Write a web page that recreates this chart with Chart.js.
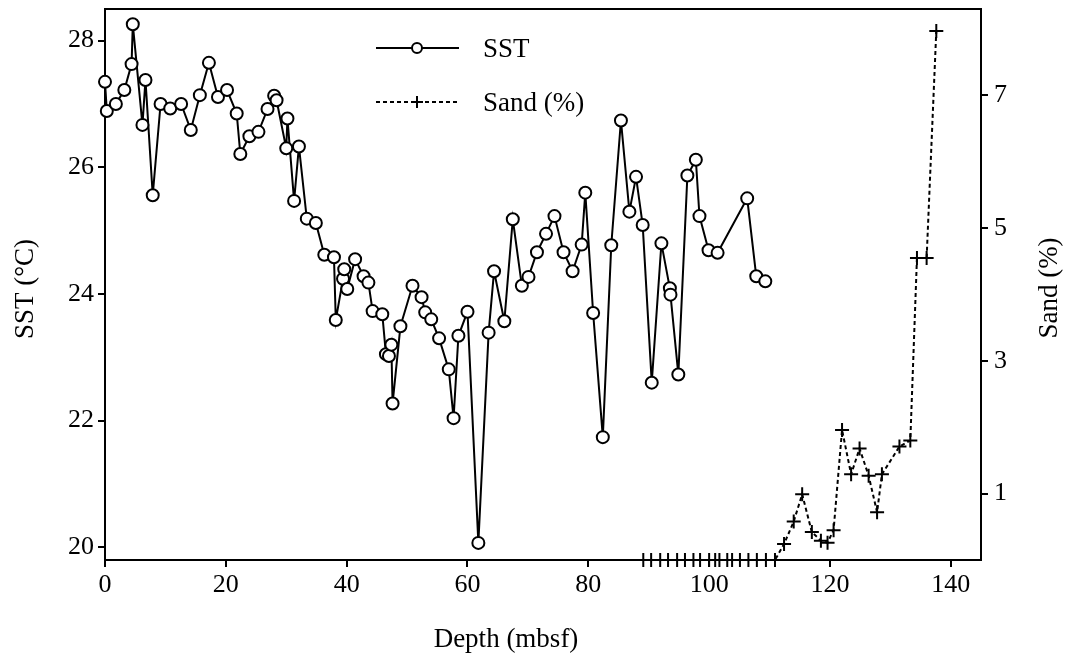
<!DOCTYPE html>
<html lang="en">
<head>
<meta charset="UTF-8">
<title>SST and Sand vs Depth</title>
<script src="https://cdn.jsdelivr.net/npm/chart.js"></script>
<style>
  html, body { margin: 0; padding: 0; background: #fff; }
  #wrap { width: 1084px; height: 667px; }
</style>
</head>
<body>
<div id="wrap"><canvas id="myChart" width="1084" height="667"></canvas></div>
<script>
// depth (mbsf) and SST (oC)
const sstDepth = [0, 0.3, 1.8, 3.2, 4.4, 4.6, 6.2, 6.7, 7.9, 9.2,
    10.8, 12.6, 14.2, 15.7, 17.2, 18.7, 20.2, 21.8, 22.4, 23.9,
    25.4, 26.9, 28.0, 28.4, 30.0, 30.2, 31.3, 32.1, 33.4, 34.9,
    36.3, 37.9, 38.2, 39.4, 39.6, 40.1, 41.4, 42.8, 43.6, 44.3,
    45.9, 46.5, 47.0, 47.4, 47.6, 48.9, 50.9, 52.4, 53.0, 54.0,
    55.3, 56.9, 57.7, 58.5, 60.0, 61.8, 63.5, 64.4, 66.1, 67.5,
    69.0, 70.1, 71.5, 73.0, 74.4, 75.9, 77.4, 78.9, 79.5, 80.8,
    82.4, 83.8, 85.4, 86.8, 87.9, 89.0, 90.5, 92.1, 93.5, 93.6,
    94.9, 96.4, 97.8, 98.4, 99.9, 101.4, 106.3, 107.8, 109.3];
const sstValues = [27.35, 26.89, 27.0, 27.22, 27.63, 28.26, 26.67, 27.38, 25.56, 27.0,
    26.93, 27.0, 26.59, 27.14, 27.65, 27.11, 27.22, 26.85, 26.21, 26.49,
    26.56, 26.92, 27.13, 27.06, 26.3, 26.77, 25.47, 26.33, 25.19, 25.12,
    24.62, 24.58, 23.59, 24.24, 24.39, 24.08, 24.55, 24.28, 24.18, 23.73,
    23.68, 23.05, 23.02, 23.2, 22.27, 23.49, 24.13, 23.95, 23.71, 23.6,
    23.3, 22.81, 22.04, 23.34, 23.72, 20.07, 23.39, 24.36, 23.57, 25.18,
    24.13, 24.27, 24.66, 24.95, 25.23, 24.66, 24.36, 24.78, 25.6, 23.7,
    21.74, 24.77, 26.74, 25.3, 25.85, 25.09, 22.6, 24.8, 24.09, 23.99,
    22.73, 25.87, 26.12, 25.23, 24.69, 24.65, 25.51, 24.28, 24.2];

// depth (mbsf) and sand (%)
const sandDepth = [89.1, 90.4, 91.9, 93.2, 94.7, 96.0, 97.4, 98.5, 100.0, 101.0,
    101.7, 103.0, 103.8, 105.1, 106.5, 107.9, 109.4, 110.9, 112.4, 114.0,
    115.4, 117.0, 118.5, 119.6, 120.6, 122.0, 123.5, 124.9, 126.4, 127.8,
    128.6, 131.5, 133.3, 134.4, 136.0, 137.6];
const sandValues = [0, 0, 0, 0, 0, 0, 0, 0, 0, 0,
    0, 0, 0, 0, 0, 0, 0, 0, 0.24, 0.58,
    0.99, 0.42, 0.29, 0.26, 0.45, 1.96, 1.29, 1.68, 1.27, 0.72,
    1.29, 1.71, 1.8, 4.55, 4.55, 7.97];

const depthTicks = [0, 20, 40, 60, 80, 100, 120, 140];
const sstTicks = [20, 22, 24, 26, 28];
const sandTicks = [1, 3, 5, 7];

const FONT = "'Liberation Serif', 'Times New Roman', serif";

function pts(xs, ys) {
    return xs.map((x, i) => ({ x: x, y: ys[i] }));
}

function vText(ctx, text, x, y) {
    ctx.save();
    ctx.translate(x, y);
    ctx.rotate(-Math.PI / 2);
    ctx.fillText(text, 0, 0);
    ctx.restore();
}

// top frame line, axis titles and legend drawn by hand
const framePlugin = {
    id: 'frame',
    afterDraw(chart) {
        const ctx = chart.ctx;
        const a = chart.chartArea;
        ctx.save();
        ctx.strokeStyle = '#000';
        ctx.lineWidth = 2;
        ctx.beginPath();
        ctx.moveTo(a.left, a.top);
        ctx.lineTo(a.right, a.top);
        ctx.stroke();

        // axis titles
        ctx.fillStyle = '#000';
        ctx.font = '27px ' + FONT;
        ctx.textAlign = 'center';
        ctx.textBaseline = 'middle';
        ctx.fillText('Depth (mbsf)', 506, 640);
        vText(ctx, 'SST (°C)', 26, 289);
        vText(ctx, 'Sand (%)', 1050, 288);

        // legend
        ctx.lineWidth = 2;
        ctx.beginPath();
        ctx.moveTo(376, 48);
        ctx.lineTo(459, 48);
        ctx.stroke();
        ctx.beginPath();
        ctx.arc(417, 48, 5, 0, Math.PI * 2);
        ctx.fillStyle = '#fff';
        ctx.fill();
        ctx.stroke();

        ctx.setLineDash([4, 3]);
        ctx.beginPath();
        ctx.moveTo(376, 102);
        ctx.lineTo(459, 102);
        ctx.stroke();
        ctx.setLineDash([]);
        ctx.beginPath();
        ctx.moveTo(411, 102); ctx.lineTo(423, 102);
        ctx.moveTo(417, 96); ctx.lineTo(417, 108);
        ctx.stroke();

        ctx.fillStyle = '#000';
        ctx.font = '27px ' + FONT;
        ctx.textAlign = 'left';
        ctx.textBaseline = 'alphabetic';
        ctx.fillText('SST', 483, 57);
        ctx.fillText('Sand (%)', 483, 111);
        ctx.restore();
    }
};

const axisFont = { family: FONT, size: 26 };

function fixY(width) {
    return s => { s.width = width; s.paddingTop = 0; s.paddingBottom = 0; };
}

const ctx = document.getElementById('myChart');
const chart = new Chart(ctx, {
    type: 'line',
    data: {
        datasets: [{
            label: 'SST',
            data: pts(sstDepth, sstValues),
            yAxisID: 'y',
            borderColor: '#000',
            borderWidth: 2,
            pointStyle: 'circle',
            pointRadius: 6,
            pointBorderWidth: 2,
            pointBackgroundColor: '#fff',
            pointBorderColor: '#000',
            tension: 0,
            clip: false
        }, {
            label: 'Sand (%)',
            data: pts(sandDepth, sandValues),
            yAxisID: 'y2',
            borderColor: '#000',
            borderWidth: 2,
            borderDash: [4, 3],
            pointStyle: 'cross',
            pointRadius: 7,
            pointBorderWidth: 2,
            pointBorderColor: '#000',
            tension: 0,
            clip: false
        }]
    },
    options: {
        responsive: false,
        animation: false,
        layout: { padding: { top: 0 } },
        plugins: {
            legend: { display: false },
            tooltip: { enabled: false }
        },
        scales: {
            x: {
                type: 'linear',
                position: 'bottom',
                min: 0,
                max: 145,
                afterBuildTicks: s => { s.ticks = depthTicks.map(v => ({ value: v })); },
                afterFit: s => { s.height = 107; },
                grid: { drawOnChartArea: false, drawTicks: true, tickLength: 7, color: '#000', lineWidth: 2 },
                border: { display: true, color: '#000', width: 2 },
                ticks: { color: '#000', font: axisFont, padding: 3, maxRotation: 0 }
            },
            y: {
                type: 'linear',
                position: 'left',
                min: 19.8,
                max: 28.5,
                afterBuildTicks: s => { s.ticks = sstTicks.map(v => ({ value: v })); },
                afterFit: fixY(105),
                grid: { drawOnChartArea: false, drawTicks: true, tickLength: 7, color: '#000', lineWidth: 2 },
                border: { display: true, color: '#000', width: 2 },
                ticks: { color: '#000', font: axisFont, padding: 4 }
            },
            y2: {
                type: 'linear',
                position: 'right',
                min: 0,
                max: 8.3,
                afterBuildTicks: s => { s.ticks = sandTicks.map(v => ({ value: v })); },
                afterFit: fixY(103),
                grid: { drawOnChartArea: false, drawTicks: true, tickLength: 7, color: '#000', lineWidth: 2 },
                border: { display: true, color: '#000', width: 2 },
                ticks: { color: '#000', font: axisFont, padding: 6 }
            }
        }
    },
    plugins: [framePlugin]
});
</script>
</body>
</html>
